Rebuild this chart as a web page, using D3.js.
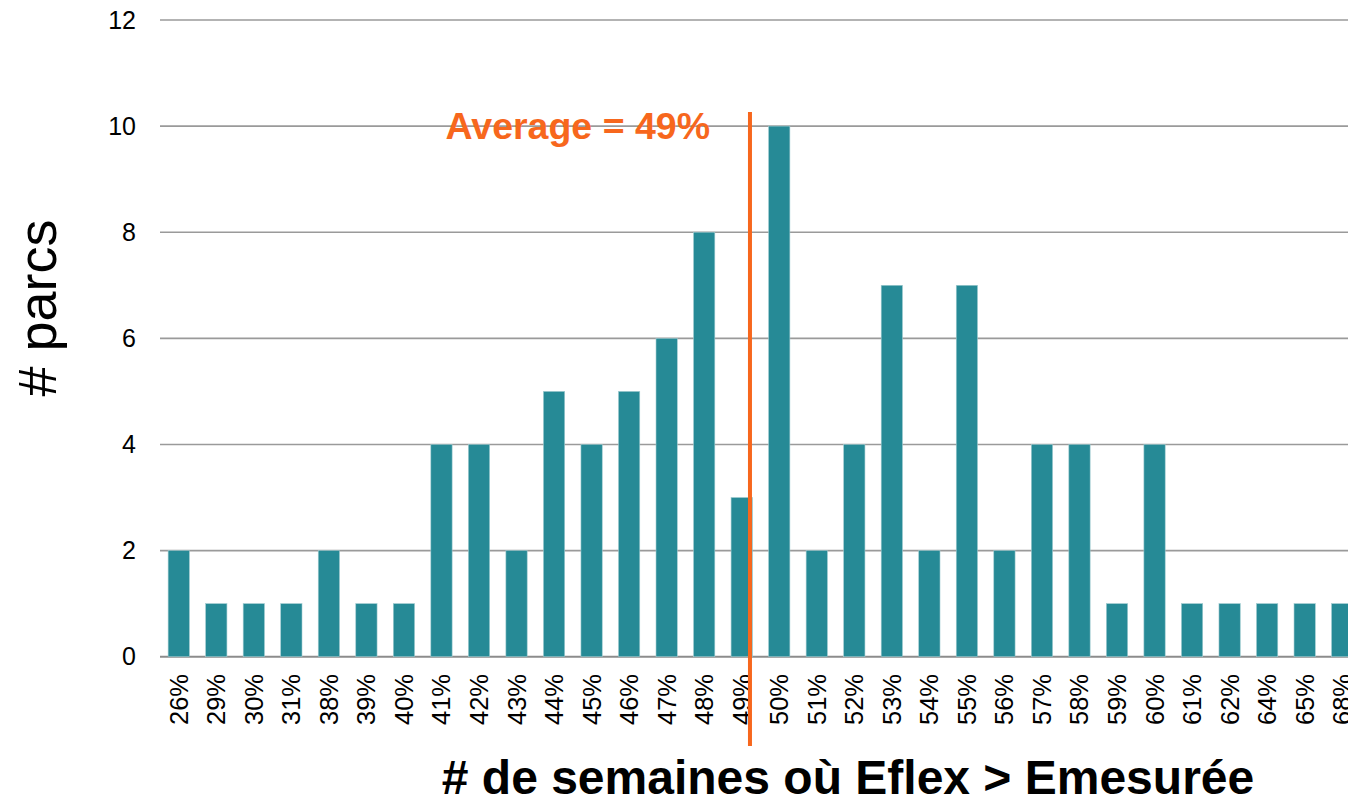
<!DOCTYPE html>
<html>
<head>
<meta charset="utf-8">
<script src="https://cdn.jsdelivr.net/npm/d3@7"></script>
<style>
  html, body { margin: 0; padding: 0; background: #fff; overflow: hidden; }
  svg { display: block; font-family: "Liberation Sans", Arial, sans-serif; }
</style>
</head>
<body>
<svg id="chart" width="1348" height="798"></svg>
<script>
const categories = ["26%","29%","30%","31%","38%","39%","40%","41%","42%","43%","44%","45%","46%","47%","48%","49%","50%","51%","52%","53%","54%","55%","56%","57%","58%","59%","60%","61%","62%","64%","65%","68%"];
const counts = [2,1,1,1,2,1,1,4,4,2,5,4,5,6,8,3,10,2,4,7,2,7,2,4,4,1,4,1,1,1,1,1];
const yTicks = [0,2,4,6,8,10,12];
const averageLabel = "Average = 49%";
const averagePosition = { from: "49%", to: "50%", fraction: 0.22 };
const xTitle = "# de semaines où Eflex > Emesurée";
const yTitle = "# parcs";

const svg = d3.select("#chart");
const left = 160, step = 37.53;
const right = left + step * categories.length;
const yTop = 20, yBottom = 656.7;

const x = d3.scaleBand().domain(categories).range([left, right]).paddingInner(0.433).paddingOuter(0.2165);
const y = d3.scaleLinear().domain([0, 12]).range([yBottom, yTop]);

// gridlines
svg.append("g").selectAll("line").data(yTicks).join("line")
  .attr("x1", left).attr("x2", 1348)
  .attr("y1", d => y(d)).attr("y2", d => y(d))
  .attr("stroke", d => d === 0 ? "#8c8c8c" : "#9a9a9a")
  .attr("stroke-width", d => d === 0 ? 2 : 1.6);

// y tick labels
svg.append("g").selectAll("text").data(yTicks).join("text")
  .attr("x", 136).attr("y", d => y(d))
  .attr("dy", "0.35em")
  .attr("text-anchor", "end")
  .attr("font-size", 25)
  .attr("fill", "#000")
  .text(d => d);

// bars
svg.append("g").selectAll("rect").data(categories).join("rect")
  .attr("x", d => x(d))
  .attr("width", x.bandwidth())
  .attr("y", (d, i) => y(counts[i]))
  .attr("height", (d, i) => y(0) - y(counts[i]))
  .attr("fill", "#268a96")
  .attr("stroke", "#9fcbd0")
  .attr("stroke-width", 0.6);

// x tick labels rotated
svg.append("g").selectAll("text").data(categories).join("text")
  .attr("transform", d => `translate(${x(d) + x.bandwidth() / 2 + 9},674) rotate(-90)`)
  .attr("text-anchor", "end")
  .attr("font-size", 25.5)
  .attr("fill", "#000")
  .text(d => d);

// average line
const ax = x(averagePosition.from) + x.bandwidth() / 2 +
  averagePosition.fraction * (x(averagePosition.to) - x(averagePosition.from));
svg.append("line")
  .attr("x1", ax).attr("x2", ax)
  .attr("y1", 112).attr("y2", 746)
  .attr("stroke", "#f7671d").attr("stroke-width", 4);

svg.append("text")
  .attr("x", 710).attr("y", 139)
  .attr("text-anchor", "end")
  .attr("font-size", 37.5).attr("font-weight", "bold")
  .attr("fill", "#f7671d")
  .text(averageLabel);

// axis titles
svg.append("text")
  .attr("x", 848).attr("y", 794)
  .attr("text-anchor", "middle")
  .attr("font-size", 48).attr("font-weight", "bold")
  .attr("fill", "#000")
  .text(xTitle);

svg.append("text")
  .attr("transform", "translate(56,308) rotate(-90)")
  .attr("text-anchor", "middle")
  .attr("font-size", 54)
  .attr("fill", "#000")
  .text(yTitle);
</script>
</body>
</html>
